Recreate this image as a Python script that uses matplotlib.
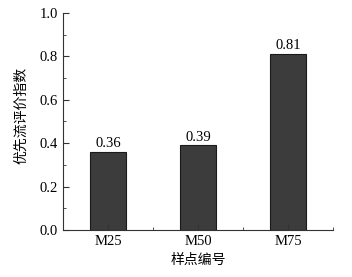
import numpy as np
import matplotlib
matplotlib.use('Agg')
import matplotlib.pyplot as plt
from matplotlib.ticker import MultipleLocator, FixedLocator

plt.rcParams['font.family'] = ['Liberation Serif', 'Noto Sans CJK SC']

# Data
samples = ['M25', 'M50', 'M75']
index_values = [0.36, 0.39, 0.81]

fig = plt.figure(figsize=(3.52, 2.77), dpi=100)
ax = fig.add_axes([0.179, 0.170, 0.767, 0.783])

x = np.arange(len(samples))
bars = ax.bar(x, index_values, width=0.4, color='#3c3c3c', edgecolor='#1a1a1a', linewidth=0.8)

for xi, v in zip(x, index_values):
    ax.text(xi, v + 0.008, f'{v:.2f}', ha='center', va='bottom', fontsize=10.5)

ax.set_xlim(-0.5, 2.5)
ax.set_ylim(0, 1.0)
ax.set_xticks(x)
ax.set_xticklabels(samples)
ax.xaxis.set_minor_locator(FixedLocator([0.5, 1.5, 2.5]))
ax.yaxis.set_major_locator(MultipleLocator(0.2))
ax.yaxis.set_minor_locator(MultipleLocator(0.1))
ax.yaxis.set_major_formatter(plt.FuncFormatter(lambda v, p: f'{v:.1f}'))

ax.spines['top'].set_visible(False)
ax.spines['right'].set_visible(False)
for s in ('left', 'bottom'):
    ax.spines[s].set_color('#333333')
    ax.spines[s].set_linewidth(0.8)

ax.tick_params(which='both', direction='in', colors='#333333', labelcolor='black', labelsize=10.5)
ax.tick_params(which='major', length=4)
ax.tick_params(which='minor', length=2)

ax.set_xlabel('样点编号', fontsize=10, labelpad=4)
ax.set_ylabel('优先流评价指数', fontsize=10, labelpad=9)
ax.yaxis.set_label_coords(-0.13, 0.53)

fig.savefig('out.png', dpi=100)
